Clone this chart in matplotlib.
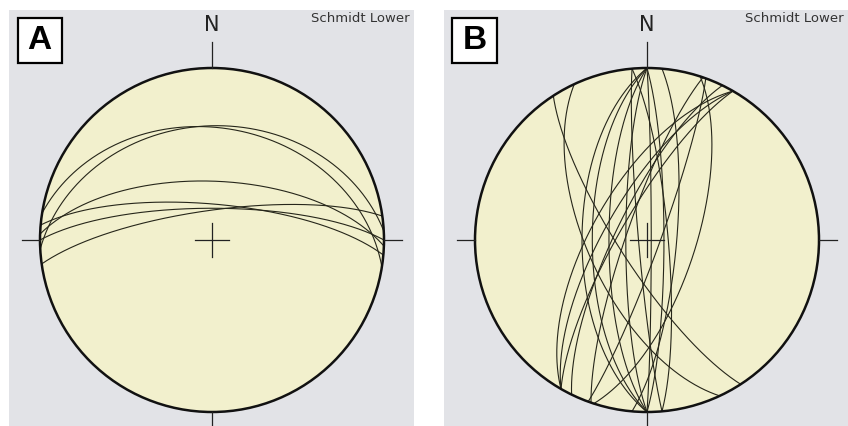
import numpy as np
import matplotlib.pyplot as plt
from matplotlib.patches import Circle, Rectangle

dipdir_a = [9, -3, 2, -8, 5, 0]
dip_a = [35, 34, 62, 76, 73, 75]

dipdir_b = [237, 245, 270, 270, 270, 270, 90, 90, 300, 300, 300, 296, 108, 289, 85, 265, 110, 95]
dip_b = [77, 62, 59, 64, 72, 80, 88, 82, 77, 70, 64, 75, 67, 80, 80, 86, 84, 76]

panel_labels = ['A', 'B']

bg_gray = '#e2e3e7'
net_fill = '#f2f0cd'
line_col = '#26261a'


def great_circle(dd, dip, n=400):
    # lower hemisphere, equal-area (Schmidt) projection
    dd = np.radians(dd)
    dip = np.radians(dip)
    strike = dd - np.pi / 2
    t = np.linspace(0, np.pi, n)
    e = np.cos(t) * np.sin(strike) + np.sin(t) * np.sin(dd) * np.cos(dip)
    nn = np.cos(t) * np.cos(strike) + np.sin(t) * np.cos(dd) * np.cos(dip)
    d = np.sin(t) * np.sin(dip)
    return e / np.sqrt(1 + d), nn / np.sqrt(1 + d)


def draw_net(ax, dipdirs, dips, label):
    ax.set_facecolor(bg_gray)
    ax.add_patch(Circle((0, 0), 1, facecolor=net_fill, edgecolor='none', zorder=1))
    for dd, dp in zip(dipdirs, dips):
        x, y = great_circle(dd, dp)
        ax.plot(x, y, color=line_col, lw=0.8, zorder=2)
    ax.add_patch(Circle((0, 0), 1, facecolor='none', edgecolor='#111111', lw=1.8, zorder=3))

    # compass ticks and centre cross
    k = dict(color='#222222', lw=0.9, zorder=3)
    ax.plot([0, 0], [1, 1.15], **k)
    ax.plot([0, 0], [-1, -1.15], **k)
    ax.plot([-1, -1.105], [0, 0], **k)
    ax.plot([1, 1.105], [0, 0], **k)
    ax.plot([-0.1, 0.1], [0, 0], **k)
    ax.plot([0, 0], [-0.1, 0.1], **k)

    ax.text(0, 1.25, 'N', ha='center', va='center', fontsize=15, color='#222222')
    ax.text(0.99, 0.995, 'Schmidt Lower', transform=ax.transAxes, ha='right', va='top',
            fontsize=9.5, color='#333333')
    ax.add_patch(Rectangle((0.021, 0.872), 0.109, 0.108, transform=ax.transAxes,
                           facecolor='white', edgecolor='black', lw=1.6, zorder=4))
    ax.text(0.0755, 0.926, label, transform=ax.transAxes, ha='center', va='center',
            fontsize=24, fontweight='bold', family='Liberation Sans', zorder=5)

    ax.set_aspect('equal')
    ax.set_xticks([])
    ax.set_yticks([])
    for s in ax.spines.values():
        s.set_visible(False)


W, H = 848, 426
fig = plt.figure(figsize=(W / 100, H / 100), dpi=100)

R = 172.0
# panel A
ax_a = fig.add_axes([9 / W, 0, 405 / W, 416 / H])
ax_a.set_xlim((9 - 212) / R, (414 - 212) / R)
ax_a.set_ylim((240 - 426) / R, (240 - 10) / R)
draw_net(ax_a, dipdir_a, dip_a, panel_labels[0])

# panel B
ax_b = fig.add_axes([444 / W, 0, 404 / W, 416 / H])
ax_b.set_xlim((444 - 647) / R, (848 - 647) / R)
ax_b.set_ylim((240 - 426) / R, (240 - 10) / R)
draw_net(ax_b, dipdir_b, dip_b, panel_labels[1])

fig.savefig('out.png', dpi=100)
